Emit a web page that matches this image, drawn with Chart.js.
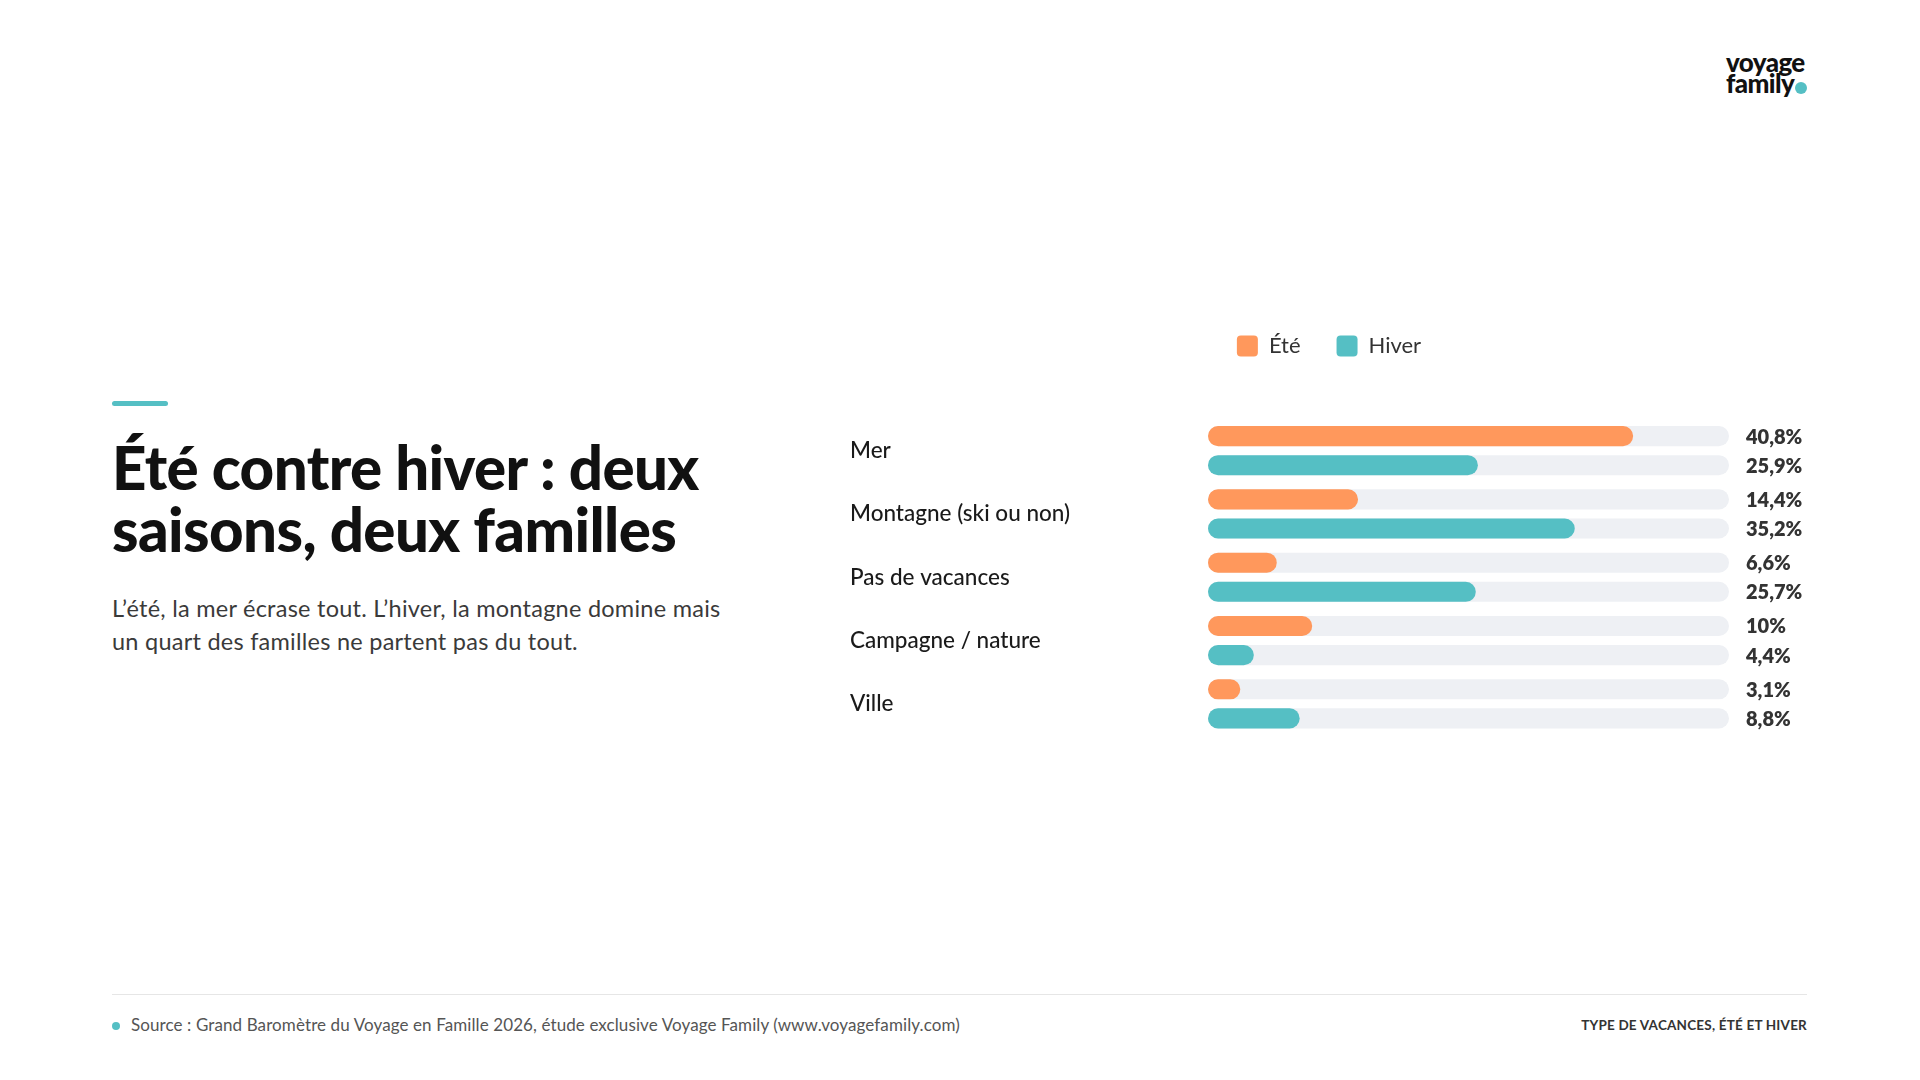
<!DOCTYPE html>
<html lang="fr">
<head>
<meta charset="utf-8">
<script src="https://cdn.jsdelivr.net/npm/chart.js@4.4.1/dist/chart.umd.min.js"></script>
<style>
  html, body { margin:0; padding:0; background:#ffffff; }
  body { width:1920px; height:1080px; position:relative; overflow:hidden; font-family:"Lato","Noto Sans",sans-serif; }
  .logo { position:absolute; left:1726px; top:52px; font-weight:900; font-size:26px; line-height:21px; color:#111; letter-spacing:-0.6px; }
  .logo .dot { display:inline-block; width:12px; height:12px; border-radius:50%; background:#55BFC4; margin-left:1px; vertical-align:-1px; }
  .accent { position:absolute; left:112px; top:401px; width:56px; height:5px; border-radius:3px; background:#55BFC4; }
  h1 { position:absolute; left:112px; top:436px; margin:0; font-size:60px; line-height:62px; font-weight:900; color:#111; letter-spacing:-0.6px; white-space:nowrap; }
  .sub { position:absolute; left:112px; top:592px; margin:0; font-size:23.5px; line-height:33px; color:#3a3a3a; letter-spacing:0.25px; white-space:nowrap; }
  .rule { position:absolute; left:112px; top:994px; width:1695px; height:1px; background:#e6e6e6; }
  .src { position:absolute; left:112px; top:1014px; font-size:17px; line-height:22px; color:#555; letter-spacing:0.1px; white-space:nowrap; }
  .src .dot { display:inline-block; width:8px; height:8px; border-radius:50%; background:#55BFC4; margin-right:11px; vertical-align:1px; }
  .tag { position:absolute; right:113px; top:1016px; font-size:13.5px; line-height:18px; font-weight:700; color:#333; letter-spacing:0.2px; white-space:nowrap; }
  #wrap { position:absolute; left:850px; top:299px; width:958px; height:450px; }
</style>
</head>
<body>
<div class="logo">voyage<br>family<span class="dot"></span></div>
<div class="accent"></div>
<h1>Été contre hiver : deux<br>saisons, deux familles</h1>
<p class="sub">L’été, la mer écrase tout. L’hiver, la montagne domine mais<br>un quart des familles ne partent pas du tout.</p>
<div id="wrap"><canvas id="c" width="958" height="450"></canvas></div>
<div class="rule"></div>
<div class="src"><span class="dot"></span>Source : Grand Baromètre du Voyage en Famille 2026, étude exclusive Voyage Family (www.voyagefamily.com)</div>
<div class="tag">TYPE DE VACANCES, ÉTÉ ET HIVER</div>
<script>
const categories = ['Mer', 'Montagne (ski ou non)', 'Pas de vacances', 'Campagne / nature', 'Ville'];
const seriesNames = ['Été', 'Hiver'];
const ete = [40.8, 14.4, 6.6, 10, 3.1];
const hiver = [25.9, 35.2, 25.7, 4.4, 8.8];
const scaleMax = 50;

const ORANGE = '#FF985C';
const TEAL = '#55BFC4';
const TRACK = '#EEF0F4';

function fmt(v) { return String(v).replace('.', ',') + '%'; }

const trackPlugin = {
  id: 'tracks',
  beforeDatasetsDraw(chart) {
    const ctx = chart.ctx;
    const xs = chart.scales.x;
    const x0 = xs.getPixelForValue(0);
    const x1 = xs.getPixelForValue(scaleMax);
    ctx.save();
    ctx.fillStyle = TRACK;
    chart.data.datasets.forEach((ds, i) => {
      const meta = chart.getDatasetMeta(i);
      meta.data.forEach(el => {
        const h = el.height;
        ctx.beginPath();
        ctx.roundRect(x0, el.y - h / 2, x1 - x0, h, h / 2);
        ctx.fill();
      });
    });
    ctx.restore();
  }
};

const valuePlugin = {
  id: 'values',
  afterDatasetsDraw(chart) {
    const ctx = chart.ctx;
    const xs = chart.scales.x;
    const xEnd = xs.getPixelForValue(scaleMax);
    ctx.save();
    ctx.font = '800 20px Lato, "Noto Sans", sans-serif';
    ctx.fillStyle = '#333333';
    ctx.textAlign = 'left';
    ctx.textBaseline = 'middle';
    chart.data.datasets.forEach((ds, i) => {
      const meta = chart.getDatasetMeta(i);
      meta.data.forEach((el, j) => {
        ctx.fillText(fmt(ds.data[j]), xEnd + 17, el.y + 1);
      });
    });
    ctx.restore();
  }
};

const legendGap = {
  id: 'legendGap',
  beforeInit(chart) {
    if (!chart.legend) return;
    const orig = chart.legend.fit;
    chart.legend.fit = function () {
      orig.bind(chart.legend)();
      this.height += 52;
    };
  }
};

new Chart(document.getElementById('c'), {
  type: 'bar',
  data: {
    labels: categories,
    datasets: [
      { label: seriesNames[0], data: ete, backgroundColor: ORANGE },
      { label: seriesNames[1], data: hiver, backgroundColor: TEAL }
    ]
  },
  options: {
    indexAxis: 'y',
    responsive: false,
    animation: false,
    devicePixelRatio: 1,
    layout: { padding: 0 },
    datasets: {
      bar: {
        categoryPercentage: 0.92,
        barPercentage: 0.69,
        borderRadius: 12,
        borderSkipped: false
      }
    },
    scales: {
      x: { min: 0, max: scaleMax, display: false, grid: { display: false } },
      y: {
        grid: { display: false },
        border: { display: false },
        ticks: {
          crossAlign: 'far',
          color: '#1a1a1a',
          font: { family: 'Lato, "Noto Sans", sans-serif', size: 22.5, weight: '500' },
          padding: 0
        },
        afterFit(scale) { scale.width = 358; }
      },
      yRight: {
        type: 'category',
        position: 'right',
        grid: { display: false },
        border: { display: false },
        ticks: { display: false },
        afterFit(scale) { scale.width = 79; }
      }
    },
    plugins: {
      tooltip: { enabled: false },
      legend: {
        position: 'top',
        align: 'center',
        labels: {
          boxWidth: 21,
          boxHeight: 21,
          useBorderRadius: true,
          borderRadius: 4,
          padding: 36,
          color: '#333333',
          font: { family: 'Lato, "Noto Sans", sans-serif', size: 22 }
        }
      }
    }
  },
  plugins: [legendGap, trackPlugin, valuePlugin]
});
</script>
</body>
</html>
